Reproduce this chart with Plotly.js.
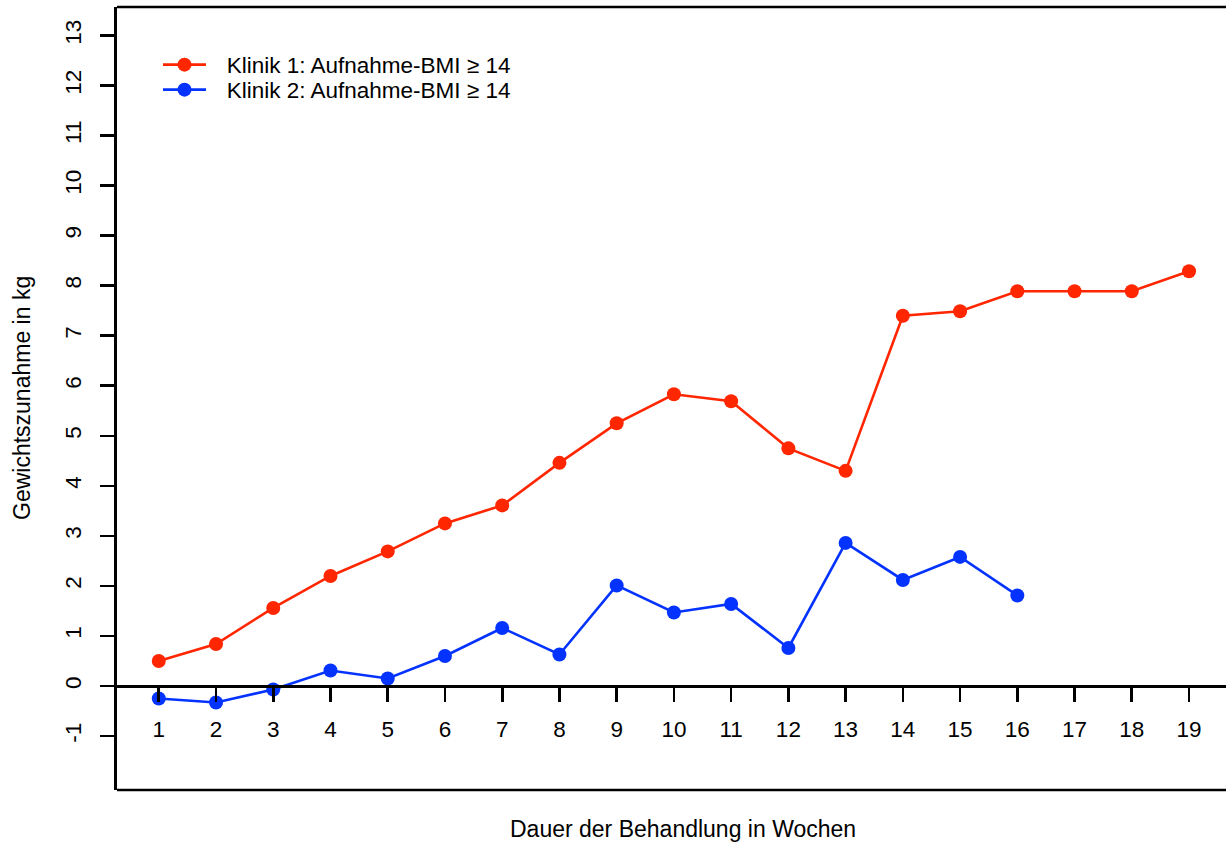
<!DOCTYPE html>
<html><head><meta charset="utf-8">
<script src="https://cdn.plot.ly/plotly-3.0.1.min.js"></script>
<style>html,body{margin:0;padding:0;background:#fff;overflow:hidden}</style>
</head><body><div id="chart" style="width:1226px;height:845px"></div>
<script>
// ---- data ----
const weeksK1 = [1,2,3,4,5,6,7,8,9,10,11,12,13,14,15,16,17,18,19];
const gainK1  = [0.50,0.84,1.56,2.20,2.69,3.25,3.61,4.46,5.25,5.83,5.69,4.75,4.30,7.40,7.49,7.89,7.89,7.89,8.29];
const weeksK2 = [1,2,3,4,5,6,7,8,9,10,11,12,13,14,15,16];
const gainK2  = [-0.25,-0.33,-0.07,0.31,0.15,0.60,1.16,0.63,2.01,1.47,1.64,0.76,2.86,2.12,2.58,1.81];
const nameK1 = "Klinik 1: Aufnahme-BMI \u2265 14";
const nameK2 = "Klinik 2: Aufnahme-BMI \u2265 14";
const xTickVals = [1,2,3,4,5,6,7,8,9,10,11,12,13,14,15,16,17,18,19];
const yTickVals = [-1,0,1,2,3,4,5,6,7,8,9,10,11,12,13];
const xTitle = "Dauer der Behandlung in Wochen";
const yTitle = "Gewichtszunahme in kg";

// ---- styling ----
const RED = "#FF2600", BLUE = "#0433FF";
const FONT = {family: "Liberation Sans, Arial, sans-serif", size: 22.5, color: "#000"};
const TITLE_FONT = {family: "Liberation Sans, Arial, sans-serif", size: 23, color: "#000"};
const LW = 2.6;
const LEGEND_PAD = "\u2002\u2009"; // gap between legend symbol and label

const traces = [
  {x: weeksK1, y: gainK1, name: LEGEND_PAD + nameK1, type: "scatter", mode: "lines+markers",
   line: {color: RED, width: LW}, marker: {color: RED, size: 14}, legend: "legend"},
  {x: weeksK2, y: gainK2, name: LEGEND_PAD + nameK2, type: "scatter", mode: "lines+markers",
   line: {color: BLUE, width: LW}, marker: {color: BLUE, size: 14}, legend: "legend2"}
];

const W = 1226, H = 845, L = 117, T = 7, B = 55;
const plotW = W - L, plotH = H - T - B;
const px = v => (v - L) / plotW;
const py = v => (H - B - v) / plotH;

const legendCommon = {font: FONT, bgcolor: "rgba(0,0,0,0)", borderwidth: 0,
  xanchor: "left", yanchor: "middle", itemwidth: 43, tracegroupgap: 0};

const layout = {
  width: W, height: H,
  margin: {l: L, r: 0, t: T, b: B, pad: 0},
  paper_bgcolor: "#fff", plot_bgcolor: "#fff",
  font: FONT,
  showlegend: true,
  legend: Object.assign({x: px(158), y: py(65)}, legendCommon),
  legend2: Object.assign({x: px(158), y: py(90)}, legendCommon),
  xaxis: {
    range: [0.27, 19.646], anchor: "free", position: py(686),
    tickvals: xTickVals, ticktext: xTickVals.map(String),
    ticks: "outside", ticklen: 14, tickwidth: LW, tickcolor: "#000",
    showline: true, linewidth: LW, linecolor: "#000",
    showgrid: false, zeroline: false, ticklabelstandoff: 8,
    tickfont: FONT
  },
  yaxis: {
    range: [-2.078, 13.57],
    tickvals: yTickVals, ticktext: yTickVals.map(String),
    ticks: "outside", ticklen: 14, tickwidth: LW, tickcolor: "#000",
    tickangle: -90,
    showline: true, linewidth: LW, linecolor: "#000",
    showgrid: false, zeroline: false, ticklabelstandoff: 10,
    tickfont: FONT
  },
  shapes: [
    {type: "line", xref: "paper", yref: "paper", x0: 0, x1: 1, y0: 1, y1: 1, line: {color: "#000", width: LW}},
    {type: "line", xref: "paper", yref: "paper", x0: 0, x1: 1, y0: 0, y1: 0, line: {color: "#000", width: LW}}
  ],
  annotations: [
    {text: xTitle, xref: "paper", yref: "paper", x: px(683), y: py(829),
     xanchor: "center", yanchor: "middle", showarrow: false, font: TITLE_FONT},
    {text: yTitle, xref: "paper", yref: "paper", x: px(22), y: py(398),
     xanchor: "center", yanchor: "middle", showarrow: false, textangle: -90, font: TITLE_FONT}
  ]
};

Plotly.newPlot("chart", traces, layout, {displayModeBar: false, staticPlot: true});
</script>
</body></html>
